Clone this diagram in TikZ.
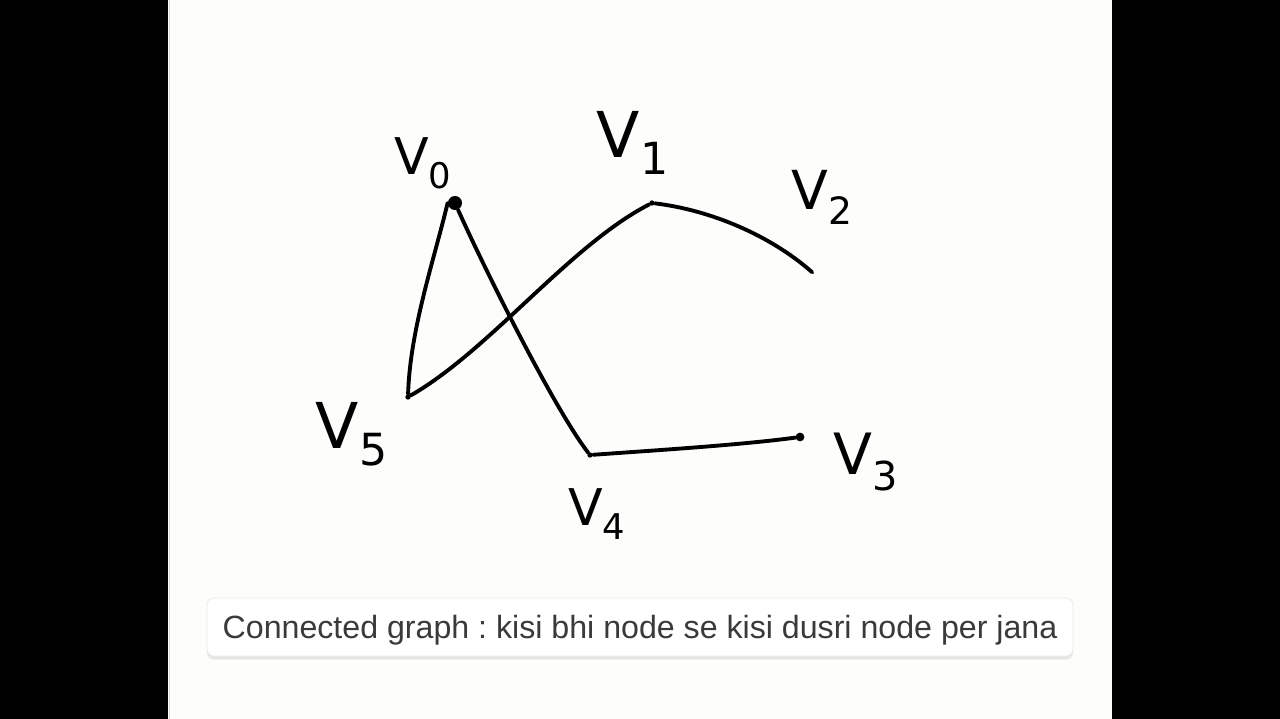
\documentclass[tikz,border=0pt]{standalone}
\usepackage{fontspec}
\setmainfont{Liberation Sans}
\newfontfamily\handfont{DejaVu Sans}
\usepackage{tikz}
\usetikzlibrary{shadows}
\usepackage{xcolor}
\definecolor{paper}{HTML}{FDFDFB}
\definecolor{captext}{HTML}{3A3A3A}
\frenchspacing

\begin{document}
\begin{tikzpicture}[x=0.02cm, y=-0.02cm,
		vdot/.style={circle, fill=black, inner sep=0pt, minimum size=3pt},
		vlab/.style={font=\handfont\fontsize{36}{36}\selectfont, inner sep=0pt},
		edge/.style={line width=2.2pt, line cap=round},
		capbox/.style={fill=white, draw=black!8, rounded corners=4pt, text=captext,
			font=\fontsize{18.3}{20}\selectfont, text depth=0pt, minimum width=17.32cm, minimum height=1.16cm,
			drop shadow={shadow xshift=0pt, shadow yshift=-2pt, opacity=0.18}}]
			\useasboundingbox (0,0) rectangle (1280,719);
			% Background
			\fill[black] (0,0) rectangle (1280,719);
			\fill[paper] (168,0) rectangle (1112,719);
			\draw[black!15] (169,0) -- (169,719);
			% Vertices
			\node[vdot, minimum size=8pt] (v0) at (455,203) {};
			\node[vdot] (v1) at (652,203) {};
			\node[vdot, minimum size=1pt] (v2) at (813,273) {};
			\node[vdot, minimum size=5pt] (v3) at (800,437) {};
			\node[vdot] (v4) at (590,455) {};
			\node[vdot] (v5) at (408,397) {};
			% Labels
			\node[vlab, scale=0.8] (l0) at (423,163) {V\textsubscript{0}};
			\node[vlab] (l1) at (633,143) {V\textsubscript{1}};
			\node[vlab, scale=0.85] (l2) at (822,197) {V\textsubscript{2}};
			\node[vlab, scale=0.9] (l3) at (866,462) {V\textsubscript{3}};
			\node[vlab, scale=0.8] (l4) at (597,514) {V\textsubscript{4}};
			\node[vlab] (l5) at (352,434) {V\textsubscript{5}};
			% Edges
			\draw[edge] (v0.west) .. controls (434,260) and (410,330) .. (v5);
			\draw[edge] (v0) .. controls (485,270) and (555,410) .. (v4);
			\draw[edge] (v5) .. controls (490,350) and (570,245) .. (v1);
			\draw[edge] (v1) .. controls (710,210) and (770,235) .. (v2);
			\draw[edge] (v4) .. controls (660,450) and (740,445) .. (v3);
			% Caption
			\node[capbox] (cap) at (640,627) {Connected graph : kisi bhi node se kisi dusri node per jana};
		\end{tikzpicture}
\end{document}
